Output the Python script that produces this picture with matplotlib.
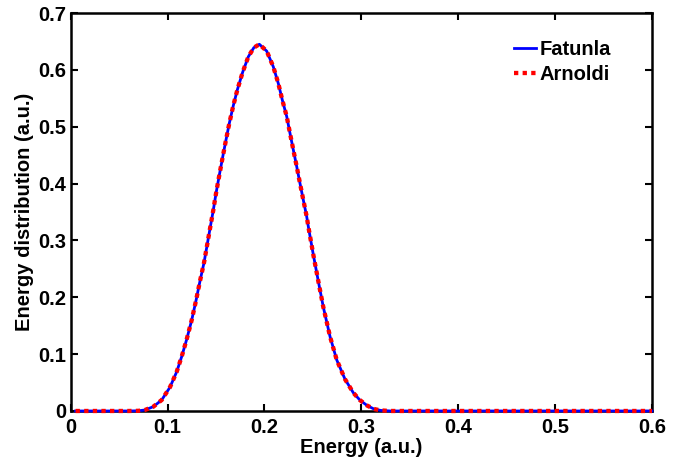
import matplotlib
matplotlib.use("Agg")
import matplotlib.pyplot as plt

energy = [0.005, 0.03, 0.06, 0.07, 0.0767, 0.0853, 0.0939, 0.1025, 0.1094, 0.1146,
          0.1197, 0.1249, 0.1293, 0.1335, 0.1376, 0.1404, 0.1440, 0.1472, 0.1500,
          0.1534, 0.1569, 0.1603, 0.1637, 0.1678, 0.1720, 0.1775, 0.1833, 0.1890,
          0.1947, 0.2023, 0.2091, 0.2143, 0.2184, 0.2230, 0.2264, 0.2298, 0.2333,
          0.2367, 0.2401, 0.2436, 0.2453, 0.2504, 0.2556, 0.2607, 0.2677, 0.2746,
          0.2831, 0.2917, 0.2986, 0.3060, 0.3130, 0.3200, 0.3300, 0.3500, 0.4000,
          0.4500, 0.5000, 0.5500, 0.6000]
fatunla = [0.0, 0.0, 0.0, 0.0003, 0.0018, 0.0076, 0.0193, 0.0420, 0.0690, 0.0960,
           0.1260, 0.1600, 0.1940, 0.2290, 0.2610, 0.2880, 0.3230, 0.3535, 0.3830,
           0.4150, 0.4470, 0.4770, 0.5060, 0.5370, 0.5650, 0.5960, 0.6230, 0.6390,
           0.6450, 0.6330, 0.6055, 0.5760, 0.5470, 0.5176, 0.4880, 0.4590, 0.4297,
           0.4000, 0.3710, 0.3417, 0.3240, 0.2750, 0.2280, 0.1830, 0.1307, 0.0897,
           0.0560, 0.0320, 0.0190, 0.0095, 0.0035, 0.0010, 0.0, 0.0, 0.0,
           0.0, 0.0, 0.0, 0.0]
arnoldi = list(fatunla)

xticks = [0, 0.1, 0.2, 0.3, 0.4, 0.5, 0.6]
xticklabels = ["0", "0.1", "0.2", "0.3", "0.4", "0.5", "0.6"]
yticks = [0, 0.1, 0.2, 0.3, 0.4, 0.5, 0.6, 0.7]
yticklabels = ["0", "0.1", "0.2", "0.3", "0.4", "0.5", "0.6", "0.7"]

plt.rcParams['font.family'] = ['Liberation Sans', 'DejaVu Sans']
plt.rcParams['font.weight'] = 'bold'

fig = plt.figure(figsize=(6.84, 4.61), dpi=100)
ax = fig.add_axes([0.1034, 0.1085, 0.9532 - 0.1034, 0.9718 - 0.1085])

ax.plot(energy, fatunla, color='#0000ff', lw=2.0, label='Fatunla', clip_on=False, zorder=3)
ax.plot(energy, arnoldi, color='#ff0000', lw=3.1, linestyle=(0, (1.0, 1.0)),
        label='Arnoldi', clip_on=False, zorder=4)

ax.set_xlim(0, 0.6)
ax.set_ylim(0, 0.7)
ax.set_xticks(xticks)
ax.set_xticklabels(xticklabels)
ax.set_yticks(yticks)
ax.set_yticklabels(yticklabels)
ax.tick_params(direction='in', length=5, width=1.5, top=True, right=True,
               labelsize=14.5, pad=3)
ax.tick_params(axis='x', pad=5)
for lab in ax.get_xticklabels() + ax.get_yticklabels():
    lab.set_fontweight('bold')
for s in ax.spines.values():
    s.set_linewidth(1.8)

ax.set_xlabel('Energy (a.u.)', fontsize=14.5, fontweight='bold', labelpad=1)
ax.set_ylabel('Energy distribution (a.u.)', fontsize=14.5, fontweight='bold', labelpad=3)

leg = ax.legend(loc='upper left', bbox_to_anchor=(0.762, 0.932), frameon=False,
                handlelength=1.1, handletextpad=0.2, labelspacing=0.3,
                borderpad=0, borderaxespad=0,
                prop={'size': 14.5, 'weight': 'bold'})

fig.savefig('out.png', dpi=100)
